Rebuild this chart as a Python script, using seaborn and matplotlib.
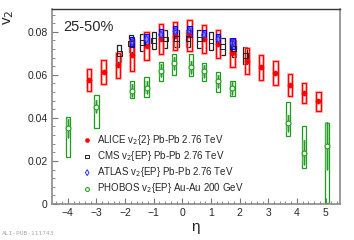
import matplotlib
matplotlib.use("Agg")
import matplotlib.pyplot as plt
from matplotlib.patches import Rectangle
from matplotlib.ticker import MultipleLocator
import pandas as pd
import seaborn as sns

# ALICE v2{2} Pb-Pb 2.76 TeV
alice_eta = [-3.25, -2.75, -2.25, -1.75, -1.25, -0.75, -0.25, 0.25, 0.75,
             1.25, 1.75, 2.25, 2.75, 3.25, 3.75, 4.25, 4.75]
alice_v2 = [0.0575, 0.0612, 0.0645, 0.0690, 0.0735, 0.0766, 0.0780, 0.0784, 0.0766,
            0.0742, 0.0702, 0.0665, 0.0636, 0.0608, 0.0553, 0.0515, 0.0478]
alice_sys = [0.0051, 0.0055, 0.0058, 0.0070, 0.0066, 0.0068, 0.0067, 0.0072, 0.0067,
             0.0066, 0.0066, 0.0060, 0.0058, 0.0056, 0.0053, 0.0047, 0.0044]

# CMS v2{EP} Pb-Pb 2.76 TeV
cms_eta = [-2.2, -1.8, -1.4, -1.0, -0.6, -0.2, 0.2, 0.6, 1.0, 1.4, 1.8, 2.2]
cms_v2 = [0.0700, 0.0747, 0.0751, 0.0760, 0.0766, 0.0768,
          0.0769, 0.0766, 0.0757, 0.0733, 0.0722, 0.0690]
cms_sys = [0.0040] * 12

# ATLAS v2{EP} Pb-Pb 2.76 TeV
atlas_eta = [-1.75, -1.25, -0.75, -0.25, 0.25, 0.75, 1.25, 1.75]
atlas_v2 = [0.0752, 0.0765, 0.0786, 0.0802, 0.0802, 0.0785, 0.0765, 0.0747]
atlas_sys = [0.0025] * 8

# PHOBOS v2{EP} Au-Au 200 GeV (asymmetric systematics)
phobos_eta = [-4.0, -3.0, -1.75, -1.25, -0.75, -0.3, 0.3, 0.75, 1.25, 1.75, 3.7, 4.25, 5.05]
phobos_v2 = [0.0352, 0.0452, 0.0527, 0.0541, 0.0620, 0.0654, 0.0634, 0.0616,
             0.0569, 0.0538, 0.0375, 0.0239, 0.0270]
phobos_lo = [0.0220, 0.0352, 0.0491, 0.0499, 0.0573, 0.0600, 0.0595, 0.0572,
             0.0518, 0.0502, 0.0314, 0.0169, 0.0005]
phobos_hi = [0.0403, 0.0507, 0.0573, 0.0592, 0.0659, 0.0696, 0.0696, 0.0654,
             0.0612, 0.0572, 0.0476, 0.0364, 0.0375]
phobos_stat = [0.0045, 0.0030, 0.0030, 0.0030, 0.0030, 0.0030, 0.0030, 0.0030,
               0.0030, 0.0030, 0.0040, 0.0060, 0.0110]

xtick_vals = [-4, -3, -2, -1, 0, 1, 2, 3, 4, 5]
xtick_labels = ["\u22124", "\u22123", "\u22122", "\u22121", "0", "1", "2", "3", "4", "5"]
ytick_vals = [0, 0.02, 0.04, 0.06, 0.08]
ytick_labels = ["0", "0.02", "0.04", "0.06", "0.08"]

alice = pd.DataFrame({"eta": alice_eta, "v2": alice_v2, "sys": alice_sys})
cms = pd.DataFrame({"eta": cms_eta, "v2": cms_v2, "sys": cms_sys})
atlas = pd.DataFrame({"eta": atlas_eta, "v2": atlas_v2, "sys": atlas_sys})
phobos = pd.DataFrame({"eta": phobos_eta, "v2": phobos_v2, "lo": phobos_lo,
                       "hi": phobos_hi, "stat": phobos_stat})

sns.set_theme(style="ticks")
plt.rcParams['font.family'] = ['Liberation Sans', 'DejaVu Sans']

fig = plt.figure(figsize=(3.54, 2.4), dpi=100)
ax = fig.add_axes([0.147, 0.15, 0.813, 0.811])

hw = 0.075
# PHOBOS boxes + stat bars
for _, r in phobos.iterrows():
    ax.add_patch(Rectangle((r.eta - hw, r.lo), 2 * hw, r.hi - r.lo, fill=False,
                           edgecolor="#1a9e1a", lw=0.9, zorder=2))
    ax.plot([r.eta, r.eta], [r.v2 - r.stat, r.v2 + r.stat], color="#5cbf5c",
            lw=3, alpha=0.6, zorder=2, solid_capstyle="butt")
    ax.plot([r.eta, r.eta], [r.v2 - r.stat, r.v2 + r.stat], color="#1a8a1a",
            lw=0.6, zorder=2)
# CMS boxes
for _, r in cms.iterrows():
    ax.add_patch(Rectangle((r.eta - hw, r.v2 - r.sys), 2 * hw, 2 * r.sys, fill=False,
                           edgecolor="#222222", lw=0.9, zorder=3))
# ALICE boxes
for _, r in alice.iterrows():
    ax.add_patch(Rectangle((r.eta - hw, r.v2 - r.sys), 2 * hw, 2 * r.sys, fill=False,
                           edgecolor="#ff8080", lw=2.0, alpha=0.7, zorder=4))
    ax.add_patch(Rectangle((r.eta - hw, r.v2 - r.sys), 2 * hw, 2 * r.sys, fill=False,
                           edgecolor="red", lw=0.8, zorder=4))
# ATLAS boxes
for _, r in atlas.iterrows():
    ax.add_patch(Rectangle((r.eta - hw, r.v2 - r.sys), 2 * hw, 2 * r.sys,
                           facecolor=(0.2, 0.2, 1.0, 0.55), edgecolor="blue",
                           lw=0.8, zorder=5))

sns.scatterplot(data=alice, x="eta", y="v2", ax=ax, marker="o", s=14,
                color="red", edgecolor="red", linewidth=0.3, zorder=6,
                label="ALICE v$_2${2} Pb-Pb 2.76 TeV")
sns.scatterplot(data=cms, x="eta", y="v2", ax=ax, marker="s", s=12,
                facecolor="none", edgecolor="#222222", linewidth=0.7, zorder=6,
                label="CMS v$_2${EP} Pb-Pb 2.76 TeV")
sns.scatterplot(data=atlas, x="eta", y="v2", ax=ax, marker="d", s=14,
                facecolor="none", edgecolor="#3030ff", linewidth=0.7, zorder=6,
                label="ATLAS v$_2${EP} Pb-Pb 2.76 TeV")
sns.scatterplot(data=phobos, x="eta", y="v2", ax=ax, marker="o", s=12,
                facecolor="white", edgecolor="#22a022", linewidth=0.8, zorder=6,
                label="PHOBOS v$_2${EP} Au-Au 200 GeV")

ax.set_xlim(-4.55, 5.5)
ax.set_ylim(0, 0.0904)
ax.set_xticks(xtick_vals)
ax.set_xticklabels(xtick_labels)
ax.set_yticks(ytick_vals)
ax.set_yticklabels(ytick_labels)
ax.xaxis.set_minor_locator(MultipleLocator(0.2))
ax.yaxis.set_minor_locator(MultipleLocator(0.004))
ax.tick_params(which="both", direction="in", labelsize=7.5, color="#777777", pad=3)
ax.tick_params(which="major", length=4, width=0.8)
ax.tick_params(which="minor", length=2, width=0.6)

for side in ["left", "bottom", "right"]:
    ax.spines[side].set_color("#8a8a8a")
    ax.spines[side].set_linewidth(1.2)
ax.spines["top"].set_color("#333333")
ax.spines["top"].set_linewidth(1.0)

ax.set_xlabel("\u03b7", fontsize=11, labelpad=1)
ax.set_ylabel("v$_2$", fontsize=11, loc="top")
ax.yaxis.set_label_coords(-0.125, 1.0)

ax.text(0.04, 0.945, "25-50%", transform=ax.transAxes, fontsize=10.5,
        ha="left", va="top")

ax.legend(loc="upper left", bbox_to_anchor=(0.085, 0.39), frameon=False,
          fontsize=7, handletextpad=0.45, labelspacing=0.22, borderpad=0,
          handlelength=1.2, markerscale=0.8)

fig.text(0.005, 0.02, "ALI-PUB-111743", fontsize=4.5, color="#aaaaaa",
         family="DejaVu Sans Mono")

fig.savefig("out.png", dpi=100)
